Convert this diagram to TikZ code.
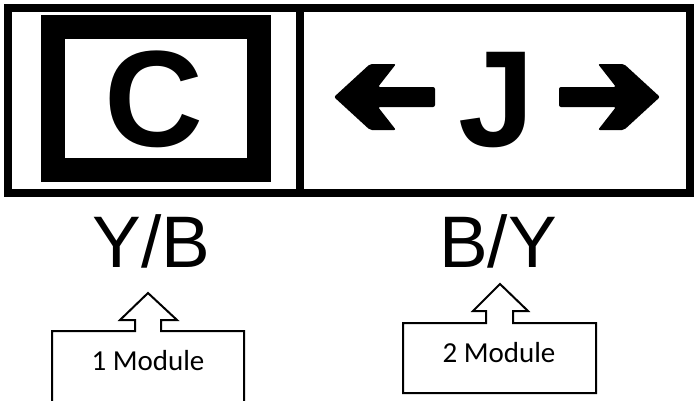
\documentclass[tikz,border=0pt]{standalone}
\usepackage{fontspec}
\setmainfont{Liberation Sans}
\newfontfamily\calfont{Carlito}
\begin{document}
\begin{tikzpicture}[x=1pt,y=-1pt,
  frame/.style={draw=black,line width=8pt},
  bigletter/.style={font=\fontsize{137}{137}\selectfont\bfseries,anchor=base,inner sep=0pt},
  colour/.style={font=\fontsize{73}{73}\selectfont,anchor=base,inner sep=0pt},
  modtext/.style={font=\calfont\fontsize{29}{29}\selectfont,anchor=base,inner sep=0pt},
  callout/.style={draw=black,line width=2pt,fill=white,line join=miter},
  arrowfill/.style={fill=black,rounded corners=2pt}]
\useasboundingbox (0,0) rectangle (694,400);
\clip (0,0) rectangle (694,400);
\fill[white] (0,0) rectangle (694,400);
% outer frame and divider
\draw[frame] (8,8) rectangle (690,193);
\draw[frame] (300,8) -- (300,193);
% C box
\draw[draw=black,line width=24pt,line join=miter] (53,27) rectangle (258.5,169.5);
\node[bigletter] (C) at (154,146) {C};
% J with arrows
\node[bigletter] (J) at (497,146) {J};
\fill[arrowfill] (334,97) -- (370,64) -- (396,64) -- (378,87) -- (435,87) -- (435,107) -- (378,107) -- (396,130) -- (370,130) -- cycle;
\fill[arrowfill] (660,97) -- (624,64) -- (598,64) -- (616,87) -- (559,87) -- (559,107) -- (616,107) -- (598,130) -- (624,130) -- cycle;
% colour labels
\node[colour] (yb) at (151.5,267) {Y/B};
\node[colour] (by) at (498,267) {B/Y};
% callout 1
\draw[callout] (52,410) -- (52,331) -- (135,331) -- (135,320) -- (120,320) -- (148,293) -- (177,320) -- (161,320) -- (161,331) -- (244,331) -- (244,410);
\node[modtext] (m1) at (148,370) {1 Module};
% callout 2
\draw[callout] (403,393) -- (403,323) -- (486,323) -- (486,311) -- (473,311) -- (500,284) -- (528,311) -- (513,311) -- (513,323) -- (596,323) -- (596,393) -- cycle;
\node[modtext] (m2) at (499,362) {2 Module};
\end{tikzpicture}
\end{document}
